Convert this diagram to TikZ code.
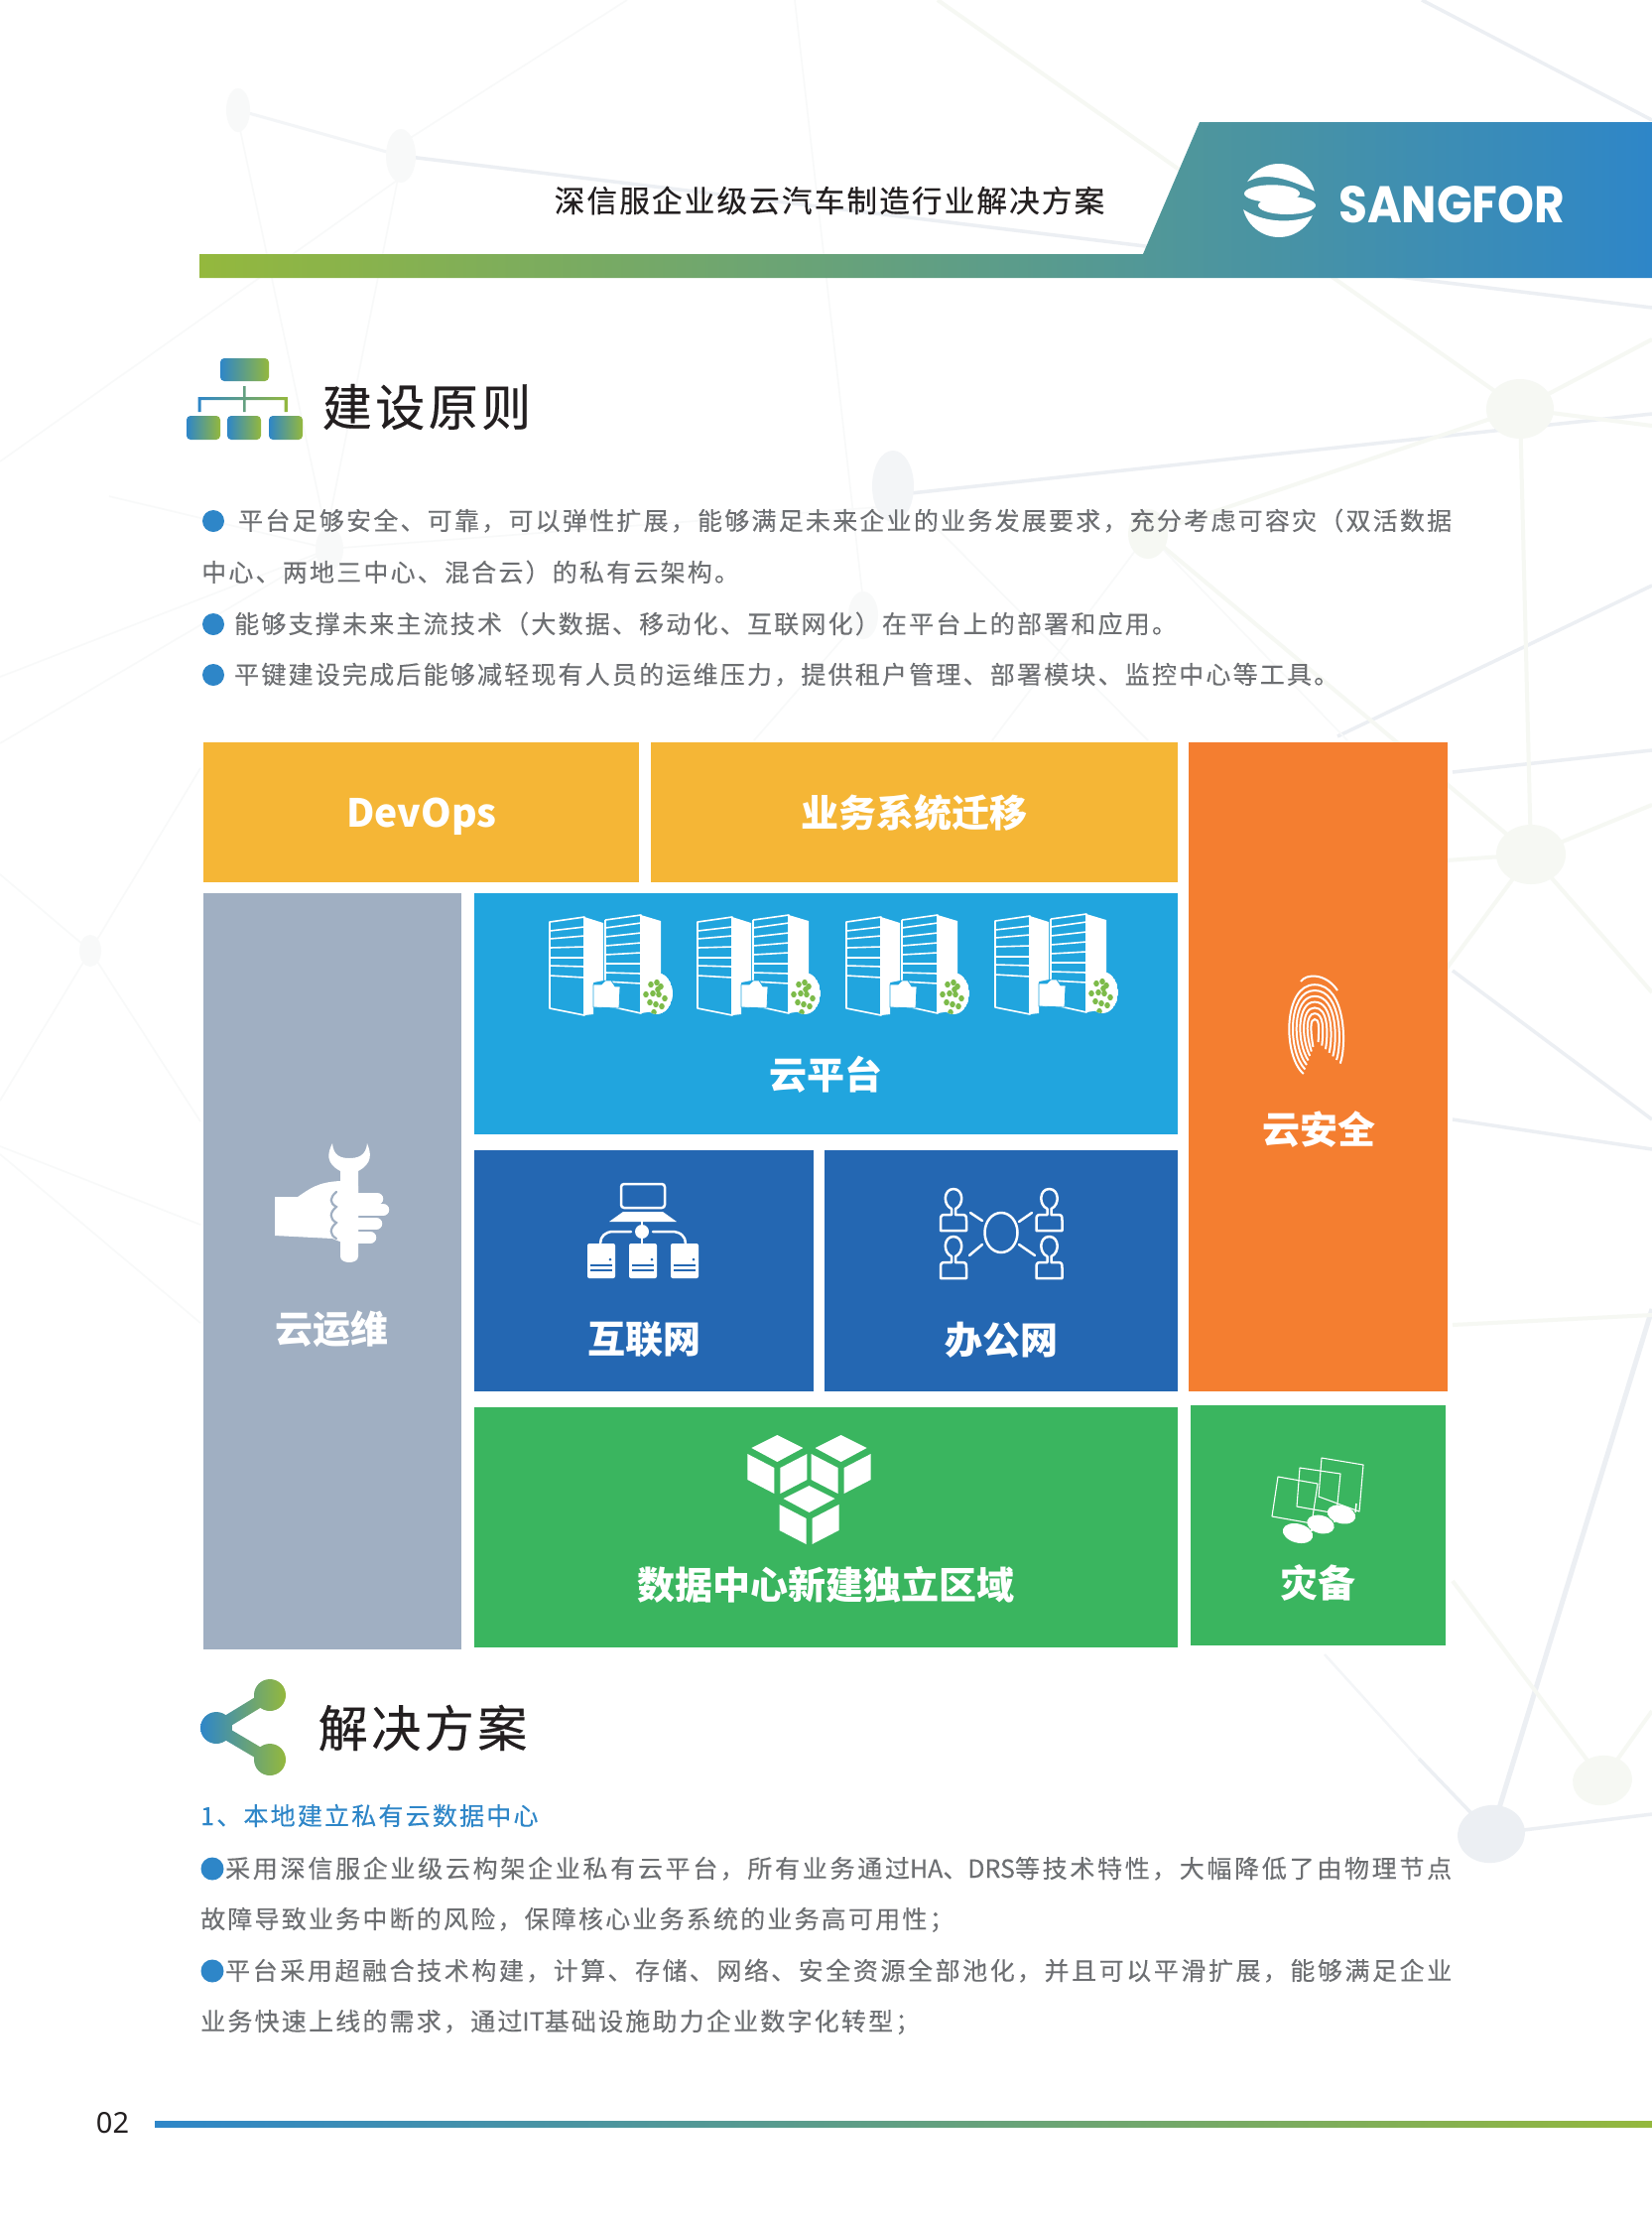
\documentclass[tikz,border=0pt]{standalone}
\usepackage{fontspec}
\setmainfont{Noto Sans CJK SC}
\newfontfamily\bodyf[LetterSpace=8.8,FakeBold=0.15]{Noto Sans CJK SC}
\newfontfamily\plainf[FakeBold=0.15]{Noto Sans CJK SC}
\newfontfamily\headf[LetterSpace=7,FakeBold=0.4]{Noto Sans CJK SC}
\newfontfamily\logof[BoldFont={Poppins Bold}]{Poppins}
\newfontfamily\latf{Noto Sans}
\definecolor{gA}{HTML}{94B83D}
\definecolor{bA}{HTML}{2E86C8}
\definecolor{bgB}{HTML}{ECEFF3}
\definecolor{bgC}{HTML}{F3F5F7}
\definecolor{bgG}{HTML}{F6F8F3}
\definecolor{bgF}{HTML}{F8F9F9}
\definecolor{cY}{HTML}{F5B636}
\definecolor{cO}{HTML}{F47E30}
\definecolor{cG}{HTML}{A0AFC2}
\definecolor{cL}{HTML}{21A5DE}
\definecolor{cD}{HTML}{2467B2}
\definecolor{cN}{HTML}{3AB55F}
\definecolor{ink}{HTML}{231F20}
\definecolor{bodyc}{HTML}{6D6F72}
\definecolor{globeg}{HTML}{7DBB4A}
\tikzset{
 lineB/.style={bgB,line width=3.5pt},
 lineG/.style={bgG,line width=4pt},
 lineF/.style={bgF,line width=1.6pt},
 dotB/.style={fill=bgB,draw=none},
 dotC/.style={fill=bgC,draw=none},
 dotG/.style={fill=bgG,draw=none},
 dotF/.style={fill=bgF,draw=none},
 blockbox/.style={fill=#1,draw=none},
 blocktext/.style={text=white,font=\fontsize{38}{38}\selectfont\bfseries,inner sep=0pt,anchor=center},
 bodytext/.style={text=bodyc,font=\fontsize{25}{25}\selectfont\bodyf,inner sep=0pt,anchor=base west},
 bullet/.style={fill=bA,draw=none},
 icoline/.style={white,line width=2.5pt,line cap=round,line join=round},
 gshade/.style={left color=bA,right color=gA,draw=none},
}
\newcommand\fulline[2]{\parbox[t]{#1}{\XeTeXlinebreaklocale "zh"\XeTeXlinebreakskip=0pt plus 8pt\relax\parindent=0pt\parfillskip=0pt #2\par}}
\newcommand\srvicon[2]{\begin{scope}[shift={(#1,#2)}]
 \draw[white,line width=1.6pt,line join=round] (0,7)--(35,2)--(35,101)--(0,94)--cycle;
 \foreach \a/\b in {16/12,24/21,33/32,43/43,51/52,61/63} \draw[white,line width=1.6pt] (0,\a)--(35,\b);
 \fill[white] (35,2)--(54,8)--(54,66)--(44,68)--(44,100)--(35,101)--cycle;
 \draw[white,line width=1.6pt,line join=round] (56,5)--(92,0)--(92,99)--(56,91);
 \draw[white,line width=1.6pt] (56,5)--(56,66);
 \foreach \a/\b in {13/8,22/18,31/28,40/38,49/49,58/59,67/69} \draw[white,line width=1.6pt] (56,\a)--(92,\b);
 \fill[white] (92,0)--(112,6)--(112,60)--(104,97)--(92,99)--cycle;
 \fill[white,draw=cL,line width=.8pt] (44,70)--(52,70)--(56,66)--(62,66)--(66,72)--(71,72)--(70,94)--(44,93)--cycle;
 \begin{scope}
  \clip (108,79) ellipse [x radius=16,y radius=21];
  \fill[white] (108,79) ellipse [x radius=16,y radius=21];
  \foreach \u/\v in {102/70,108/68,112/72,97/80,104/79,110/80,116/84,101/88,107/90,113/92,105/98,109/75}
   \fill[globeg] (\u,\v) ellipse [x radius=2.8,y radius=3.2];
 \end{scope}
\end{scope}}
\newcommand\persn[2]{\begin{scope}[shift={(#1,#2)}]
 \draw[icoline] (-2,6) .. controls (-11,2) and (-10,-14) .. (0,-14) .. controls (10,-14) and (11,2) .. (2,6)--(2,12)--(9,12) .. controls (13,12) and (13,14) .. (13,18)--(13,28)--(-13,28)--(-13,18) .. controls (-13,14) and (-13,12) .. (-9,12)--(-2,12)--cycle;
\end{scope}}
\newcommand\cubeicon[2]{\begin{scope}[shift={(#1,#2)}]
 \fill[white] (-26,13)--(0,0)--(26,13)--(0,27)--cycle;
 \fill[white] (-30,19)--(-3,33)--(-3,59)--(-30,45)--cycle;
 \fill[white] (30,19)--(3,33)--(3,59)--(30,45)--cycle;
\end{scope}}
\begin{document}
\begin{tikzpicture}[x=1pt,y=-1pt]
\useasboundingbox (0,0) rectangle (1665,2244);
\fill[white] (0,0) rectangle (1665,2244);
% background web
\foreach \xa/\ya/\xb/\yb in {404/157/1665/310, 1433/0/1665/121, 899/499/1665/417, 1348/742/1665/590, 1464/778/1665/756, 1464/978/1665/1128, 1464/1128/1665/1158, 1430/1772/1503/1848, 1503/1848/1665/1828}
 {\draw[lineB] (\xa,\ya)--(\xb,\yb);}
\draw[bgC,line width=3pt] (240,111)--(404,157);
\draw[bgC,line width=2.5pt] (1335,1667)--(1430,1772);
\draw[bgB,line width=5pt] (1665,1319)--(1503,1848);
\foreach \xa/\ya/\xb/\yb in {945/0/1532/412, 1532/412/1665/342, 1532/412/1665/429, 1532/412/1157/538, 1532/412/1543/861, 1543/861/1665/811, 1543/861/1157/538, 1543/861/1400/871, 1543/861/1440/1000, 1543/861/1665/1000, 1464/1335/1665/1325, 1464/1593/1615/1794, 1615/1794/1665/1724}
 {\draw[lineG] (\xa,\ya)--(\xb,\yb);}
\foreach \xa/\ya/\xb/\yb in {632/0/404/145, 404/165/329/538, 240/121/329/538, 404/179/0/465, 801/0/870/606, 332/553/899/510, 0/682/332/553, 0/749/332/553, 110/500/332/553, 945/533/1157/746, 1157/538/1358/746, 1157/538/1000/746, 870/620/760/746, 91/958/0/881, 91/958/0/1109, 91/958/202/774, 91/958/202/1130, 0/1155/202/1234, 0/1163/202/1333}
 {\draw[lineF] (\xa,\ya)--(\xb,\yb);}
\fill[dotF] (240,111) ellipse [x radius=12,y radius=22];
\fill[dotF] (404,157) ellipse [x radius=15,y radius=27];
\fill[dotC] (900,490) ellipse [x radius=21,y radius=36];
\fill[dotF] (332,553) ellipse [x radius=14,y radius=22];
\fill[dotF] (870,620) ellipse [x radius=15,y radius=24];
\fill[dotG] (1157,538) ellipse [x radius=20,y radius=25];
\fill[dotG] (1532,412) ellipse [x radius=34,y radius=30];
\fill[dotG] (1543,861) ellipse [x radius=35,y radius=30];
\fill[dotB,rotate around={8:(1503,1848)}] (1503,1848) ellipse [x radius=34,y radius=29];
\fill[dotG,rotate around={8:(1615,1794)}] (1615,1794) ellipse [x radius=30,y radius=25];
\fill[dotF] (91,958) ellipse [x radius=11,y radius=16];
% header band
\shade[left color=gA,right color=bA,draw=none] (201,256)--(1152,256)--(1209,123)--(1665,123)--(1665,280)--(201,280)--cycle;
\node[anchor=center,inner sep=0pt,text=ink,font=\fontsize{30.6}{30.6}\selectfont\headf] (title) at (836,202) {深信服企业级云汽车制造行业解决方案};
% logo
\begin{scope}
 \clip (1289,202) circle [radius=37];
 \fill[white] (1250,188) .. controls (1270,172) and (1290,176) .. (1330,195)--(1330,160)--(1250,160)--cycle;
 \fill[white] (1250,209) .. controls (1273,226) and (1307,226) .. (1330,214)--(1330,245)--(1250,245)--cycle;
\end{scope}
\fill[white] (1282,195) ellipse [x radius=28,y radius=8.7];
\fill[white] (1297,207) ellipse [x radius=29,y radius=9];
\node[anchor=west,inner sep=0pt,text=white] (logo) at (1349,206.5) {\resizebox{228pt}{37pt}{\logof\bfseries SANGFOR}};
% section 1 heading
\shade[gshade,rounded corners=4pt] (222,361) rectangle (271,384);
\foreach \xa/\xb in {188/222,229/263,271/305} {\shade[gshade,rounded corners=4pt] (\xa,419) rectangle (\xb,443);}
\shade[gshade] (199.5,400) rectangle (289.5,403) (199.5,400) rectangle (202.5,415) (286.5,400) rectangle (289.5,415) (245,389) rectangle (247.5,415);
\node[anchor=center,inner sep=0pt,text=ink,font=\fontsize{50}{50}\selectfont\headf] (h1) at (430,410) {建设原则};
% body 1
\fill[bullet] (215,525) circle [radius=11];
\node[bodytext] (b1) at (240,534) {\fulline{1223pt}{平台足够安全、可靠，可以弹性扩展，能够满足未来企业的业务发展要求，充分考虑可容灾（双活数据}};
\node[bodytext] (b2) at (203,586) {中心、两地三中心、混合云）的私有云架构。};
\fill[bullet] (215,629) circle [radius=11];
\node[bodytext] (b3) at (236,638) {能够支撑未来主流技术（大数据、移动化、互联网化）在平台上的部署和应用。};
\fill[bullet] (215,680) circle [radius=11];
\node[bodytext] (b4) at (236,689) {平键建设完成后能够减轻现有人员的运维压力，提供租户管理、部署模块、监控中心等工具。};
% blocks
\fill[blockbox=cY] (205,748) rectangle (644,889);
\fill[blockbox=cY] (656,748) rectangle (1187,889);
\fill[blockbox=cO] (1198,748) rectangle (1459,1402);
\fill[blockbox=cG] (205,900) rectangle (465,1662);
\fill[blockbox=cL] (478,900) rectangle (1187,1143);
\fill[blockbox=cD] (478,1159) rectangle (820,1402);
\fill[blockbox=cD] (831,1159) rectangle (1187,1402);
\fill[blockbox=cN] (478,1418) rectangle (1187,1660);
\fill[blockbox=cN] (1200,1416) rectangle (1457,1658);
\node[anchor=center,inner sep=0pt,text=white,font=\fontsize{39}{39}\selectfont\bfseries] (t1) at (425,823) {DevOps};
\node[blocktext] (t2) at (921,819) {业务系统迁移};
\node[blocktext] (t3) at (832,1083) {云平台};
\node[blocktext] (t4) at (649,1350) {互联网};
\node[blocktext] (t5) at (1009,1350) {办公网};
\node[blocktext] (t6) at (334,1339) {云运维};
\node[blocktext] (t7) at (1329,1138) {云安全};
\node[blocktext] (t8) at (832,1597) {数据中心新建独立区域};
\node[blocktext] (t9) at (1328,1595) {灾备};
% servers
\srvicon{554}{922}
\srvicon{703}{922}
\srvicon{853}{922}
\srvicon{1003}{921}
% internet icon
\draw[icoline,rounded corners=3pt] (626,1193) rectangle (670,1217);
\fill[white] (628,1221)--(668,1221)--(682,1231)--(614,1231)--cycle;
\draw[icoline] (647,1231)--(647,1253);
\fill[white] (647,1241) circle [radius=7];
\draw[icoline] (636,1241)--(618,1241) .. controls (610,1241) and (605,1246) .. (605,1253);
\draw[icoline] (658,1241)--(677,1241) .. controls (686,1241) and (691,1246) .. (691,1253);
\foreach \xa in {592,634,676} {
 \fill[white,rounded corners=2pt] (\xa,1253) rectangle ++(28,35);
 \fill[cD] (\xa+3,1274) rectangle ++(22,1.6);
 \fill[cD] (\xa+3,1279) rectangle ++(22,1.6);
 \fill[cD] (\xa+23,1269) circle [radius=1.5];
}
% office icon
\draw[icoline] (1009,1242) ellipse [x radius=16.5,y radius=20];
\persn{961}{1212}
\persn{1057.5}{1212}
\persn{961}{1260}
\persn{1057.5}{1260}
\draw[icoline] (978,1222)--(990,1230);
\draw[icoline] (1040,1222)--(1027,1231);
\draw[icoline] (990,1254)--(977,1265);
\draw[icoline] (1027,1254)--(1043,1265);
% wrench hand
\fill[white] (335,1152) .. controls (330,1162) and (328,1172) .. (343,1180)--(343,1266) .. controls (343,1274) and (361,1274) .. (361,1266)--(361,1180) .. controls (376,1172) and (374,1162) .. (370,1152) .. controls (369,1165) and (360,1167) .. (352,1167) .. controls (344,1167) and (336,1165) .. (335,1152)--cycle;
\fill[white] (277,1206)--(300,1206) .. controls (312,1198) and (320,1191) .. (343,1190)--(361,1195)--(361,1250)--(345,1252)--(335,1248)--(277,1245)--cycle;
\foreach \yy/\xe in {1208/380,1219/386,1233/379,1247/373} {\draw[white,line width=12.5pt,line cap=round] (356,\yy)--(\xe,\yy);}
\draw[cG,line width=2.2pt,line cap=round] (339,1201) .. controls (332,1207) and (332,1212) .. (339,1216) .. controls (332,1222) and (332,1228) .. (339,1232) .. controls (332,1238) and (332,1244) .. (339,1248);
% fingerprint
\foreach \i in {0,...,6} {
 \pgfmathsetmacro\aa{4.5+\i*4.6}
 \pgfmathsetmacro\tp{1027-\i*5.8}
 \pgfmathsetmacro\yl{1055+\i*4.5}
 \pgfmathsetmacro\yr{1050+\i*3.6}
 \pgfmathsetmacro\xl{1325-0.35*\aa}
 \pgfmathsetmacro\xa{1325-\aa}
 \pgfmathsetmacro\xb{1325+\aa}
 \pgfmathsetmacro\xr{1325+0.8*\aa}
 \draw[white,line width=2pt] (\xl,\yl) .. controls (\xa,\yl-18) and (\xa,\tp) .. (1325,\tp) .. controls (\xb,\tp) and (\xb,\yr-16) .. (\xr,\yr);
}
\draw[white,line width=2pt] (1311,989) .. controls (1316,981) and (1336,980) .. (1348,998);
% cubes
\cubeicon{783.4}{1446}
\cubeicon{847.6}{1446}
\cubeicon{815.5}{1497}
% DR icon
\draw[white,line width=1.1pt,line join=round] (1332,1469)--(1374,1476)--(1370,1523)--(1329,1508)--cycle;
\fill[white,rotate around={-15:(1352,1526)}] (1352,1526) ellipse [x radius=14.5,y radius=9];
\draw[white,line width=1.1pt,line join=round] (1310,1479)--(1351,1485)--(1347,1525)--(1307,1518)--cycle;
\fill[white,rotate around={-15:(1331,1536)}] (1331,1536) ellipse [x radius=14,y radius=9];
\draw[white,line width=1.1pt,line join=round] (1288,1488)--(1328,1495)--(1322,1535)--(1282,1528)--cycle;
\fill[white,rotate around={-15:(1308,1545)}] (1308,1545) ellipse [x radius=15.5,y radius=9.5];
\draw[white,line width=1.5pt] (1322,1535)--(1322,1543);
\draw[white,line width=1.5pt] (1345,1525)--(1345,1534);
\draw[white,line width=1.5pt] (1367,1515)--(1366,1524);
% section 2 heading
\shade[gshade] (218,1741) circle [radius=16] (272,1708) circle [radius=16] (272,1773) circle [radius=16]
 (214.9,1735.9)--(268.9,1702.9)--(275.1,1713.1)--(221.1,1746.1)--cycle
 (221.1,1735.9)--(275.1,1767.9)--(268.9,1778.1)--(214.9,1746.1)--cycle;
\node[anchor=center,inner sep=0pt,text=ink,font=\fontsize{50}{50}\selectfont\headf] (h2) at (426,1741) {解决方案};
\node[anchor=base west,inner sep=0pt,text=bA,font=\fontsize{25}{25}\selectfont\bodyf] (s1) at (202,1839) {1、本地建立私有云数据中心};
\fill[bullet] (214,1883) circle [radius=11.5];
\node[bodytext] (c1) at (227,1892) {\fulline{1236pt}{采用深信服企业级云构架企业私有云平台，所有业务通过{\plainf HA}、{\plainf DRS}等技术特性，大幅降低了由物理节点}};
\node[bodytext] (c2) at (202,1943) {故障导致业务中断的风险，保障核心业务系统的业务高可用性；};
\fill[bullet] (214,1986) circle [radius=11.5];
\node[bodytext] (c3) at (227,1995) {\fulline{1236pt}{平台采用超融合技术构建，计算、存储、网络、安全资源全部池化，并且可以平滑扩展，能够满足企业}};
\node[bodytext] (c4) at (202,2046) {业务快速上线的需求，通过{\plainf IT}基础设施助力企业数字化转型；};
% footer
\node[anchor=center,inner sep=0pt,text=ink,font=\fontsize{29}{29}\selectfont\latf] (pg) at (113.5,2139) {02};
\shade[left color=bA,right color=gA,draw=none] (156,2137) rectangle (1665,2143);
\end{tikzpicture}
\end{document}
